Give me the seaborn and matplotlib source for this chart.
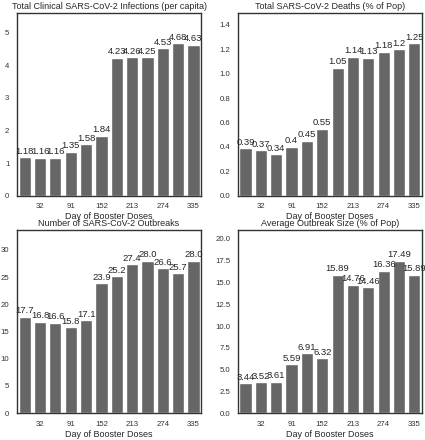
import numpy as np
import pandas as pd
import matplotlib
matplotlib.use('Agg')
import matplotlib.pyplot as plt
import seaborn as sns

# Booster dose days (first day of each month)
days = [1, 32, 60, 91, 121, 152, 182, 213, 244, 274, 305, 335]

infections = [1.18, 1.16, 1.16, 1.35, 1.58, 1.84, 4.23, 4.26, 4.25, 4.53, 4.68, 4.63]
deaths = [0.39, 0.37, 0.34, 0.4, 0.45, 0.55, 1.05, 1.14, 1.13, 1.18, 1.2, 1.25]
outbreaks = [17.7, 16.8, 16.6, 15.8, 17.1, 23.9, 25.2, 27.4, 28.0, 26.6, 25.7, 28.0]
outbreak_size = [3.44, 3.52, 3.61, 5.59, 6.91, 6.32, 15.89, 14.76, 14.46, 16.36, 17.49, 15.89]

titles = ['Total Clinical SARS-CoV-2 Infections (per capita)',
          'Total SARS-CoV-2 Deaths (% of Pop)',
          'Number of SARS-CoV-2 Outbreaks',
          'Average Outbreak Size (% of Pop)']
series = [infections, deaths, outbreaks, outbreak_size]
decimals = [2, 2, 1, 2]

sns.set_style('white')
plt.rcParams['font.family'] = ['Liberation Sans', 'DejaVu Sans']
plt.rcParams['font.size'] = 6

fig, axes = plt.subplots(2, 2, figsize=(4.25, 4.4), dpi=100)
fig.subplots_adjust(left=0.04, right=0.993, top=0.971, bottom=0.061,
                    wspace=0.2, hspace=0.19)

for ax, vals, title, dec in zip(axes.flat, series, titles, decimals):
    df = pd.DataFrame({'day': days, 'value': vals})
    sns.barplot(data=df, x='day', y='value', color='#666666', saturation=1,
                edgecolor='white', linewidth=1, ax=ax)
    if dec == 2:
        labels = [f'{v:.2f}'.rstrip('0').rstrip('.') for v in vals]
    else:
        labels = [f'{v:.1f}' for v in vals]
    ax.bar_label(ax.containers[0], labels=labels, fontsize=6.8, color='#262626', padding=1)
    ax.set_ylim(0, max(vals) * 1.2)
    ax.set_xticks(range(1, 12, 2))
    ax.set_xticklabels([days[i] for i in range(1, 12, 2)])
    ax.set_xlabel('Day of Booster Doses', fontsize=6.5, labelpad=1.5, color='#262626')
    ax.set_ylabel('')
    ax.set_title(title, fontsize=6.5, pad=3, color='#262626')
    ax.tick_params(labelsize=5.6, pad=2, labelcolor='#333333')
    for s in ax.spines.values():
        s.set_color('#333333')
        s.set_linewidth(1)

fig.savefig('out.png', dpi=100)
